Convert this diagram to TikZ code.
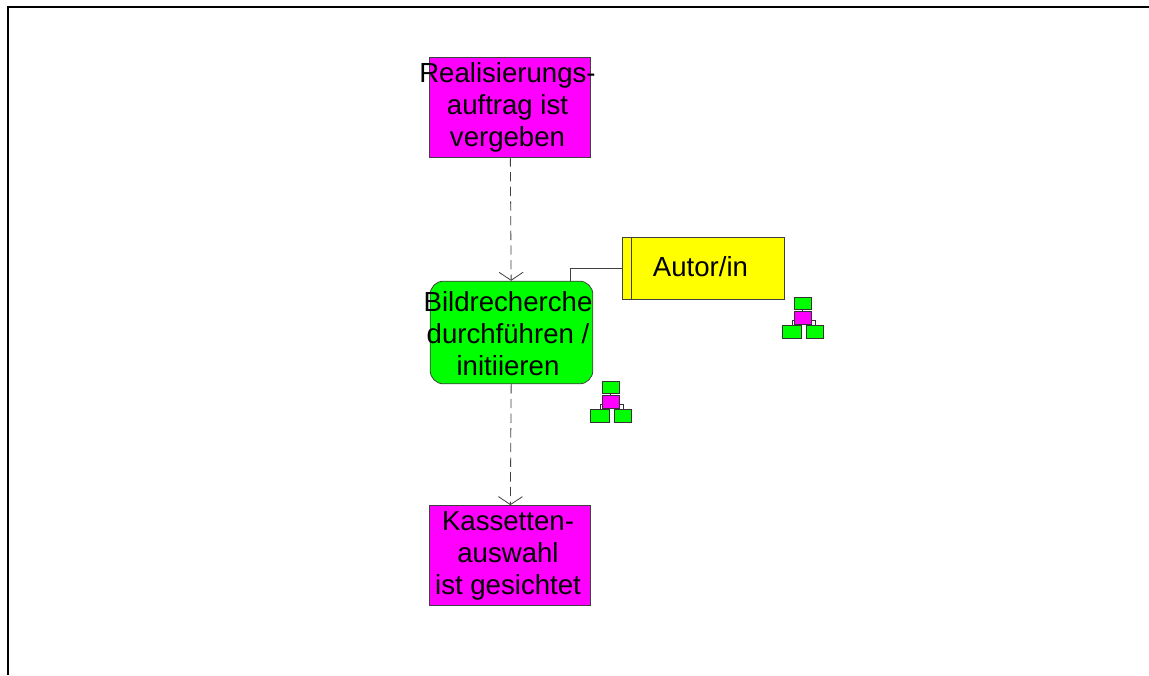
\documentclass[tikz,border=0pt]{standalone}
\usepackage{fontspec}
\setmainfont{Liberation Sans}
\usetikzlibrary{arrows.meta,shapes.misc}
\definecolor{evcolor}{RGB}{255,0,255}
\definecolor{fncolor}{RGB}{0,255,0}
\definecolor{rlcolor}{RGB}{255,255,0}
\tikzset{
  line/.style={draw=black!75,line width=0.6pt},
  flow/.style={line,dash pattern=on 7pt off 4pt,-{Straight Barb[length=6pt,width=18pt]}},
  event/.style={line,fill=evcolor,chamfered rectangle,chamfered rectangle xsep=14.25pt,
    chamfered rectangle ysep=37.5pt,inner sep=0pt,minimum width=120.75pt,minimum height=75pt},
  func/.style={line,fill=fncolor,rectangle,rounded corners=10pt,inner sep=0pt,
    minimum width=122pt,minimum height=77pt},
  role/.style={line,fill=rlcolor,rectangle,inner sep=0pt,minimum width=121.5pt,minimum height=46.5pt},
  lbl/.style={align=center,font=\fontsize{20.7}{24}\selectfont,inner sep=0pt},
  mini/.style={draw=black!80,line width=0.75pt,fill=fncolor},
}
\newcommand{\hierarchyicon}[2]{%
  \draw[mini] (#1+7,#2) rectangle ++(17,12);
  \draw[mini,fill=evcolor] (#1+7,#2+14) rectangle ++(17,13);
  \draw[mini,fill=none] (#1+15,#2+12) -- (#1+15,#2+14)
    (#1+7,#2+23) -- (#1+5,#2+23) -- (#1+5,#2+28)
    (#1+24,#2+23) -- (#1+28,#2+23) -- (#1+28,#2+30);
  \draw[mini] (#1-5,#2+28) rectangle ++(19,13);
  \draw[mini] (#1+19,#2+28) rectangle ++(17,13);
}
\begin{document}
\begin{tikzpicture}[x=0.75pt,y=-0.75pt]
  \useasboundingbox (0,0) rectangle (1149,675);
  \draw[line width=1.5pt] (7.5,675) -- (7.5,6.5) -- (1149,6.5);

  \node[event] (ev1) at (510,107) {};
  \node[func] (fn1) at (511.5,332.5) {};
  \node[event] (ev2) at (510,555.5) {};
  \node[role] (rl1) at (703,268) {};
  \coordinate (fn1c) at (570,281);

  \node[lbl] (ev1txt) at (507.5,107) {Realisierungs-\\auftrag ist\\vergeben};
  \node[lbl] (fn1txt) at (508,334) {Bildrecherche\\durchführen /\\initiieren};
  \node[lbl] (ev2txt) at (508,556) {Kassetten-\\auswahl\\ist gesichtet};
  \node[lbl] (rl1txt) at (700.5,267) {Autor/in};

  \draw[line] ([xshift=7.5pt]rl1.north west) -- ([xshift=7.5pt]rl1.south west);
  \draw[flow] (ev1) -- (fn1);
  \draw[flow] (fn1) -- (ev2);
  \draw[line] (rl1.west) -| (fn1c);

  \hierarchyicon{595}{381}
  \hierarchyicon{787}{297}
\end{tikzpicture}
\end{document}
